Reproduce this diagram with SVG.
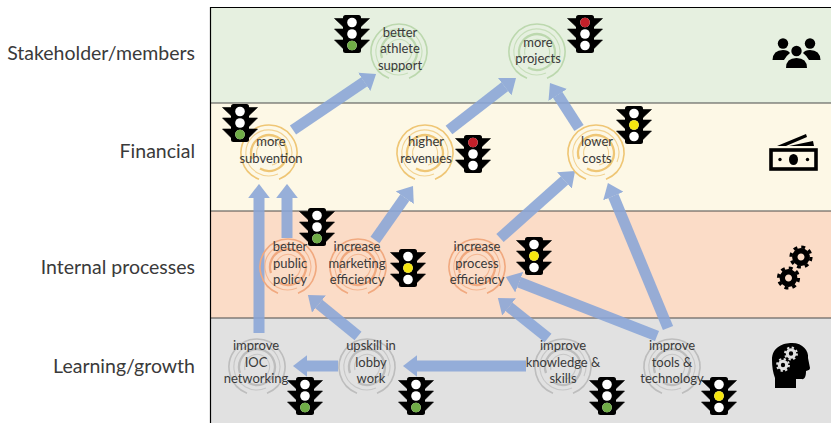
<svg xmlns="http://www.w3.org/2000/svg" width="831" height="423" viewBox="0 0 831 423">
<style>
text{font-family:Lato,"Liberation Sans",sans-serif;fill:#3a3a3a}
.n{font-size:13px;text-anchor:middle}
.band{font-size:19.5px;text-anchor:end}
.sep{stroke:#4a4a4a;stroke-width:1.2}
.a{stroke:#8aa6d8;stroke-width:11;opacity:.88;marker-end:url(#head)}
.ring{fill:none}
.sg{stroke:#bcd8ae}.sy{stroke:#efc675}.so{stroke:#f1a97f}.sa{stroke:#bdbdbd}
.g{fill:#70ad47}.y{fill:#f6e610}.r{fill:#c4202a}
</style>
<defs>
<marker id="head" viewBox="0 -1 1.3 2" markerWidth="1.3" markerHeight="2" refX="0.02" refY="0" orient="auto" markerUnits="strokeWidth"><path d="M0,-1L1.3,0L0,1Z" fill="#8aa6d8"/></marker>
<symbol id="spiral" overflow="visible" viewBox="-30 -30 60 60" width="60" height="60">
<g class="ring">
<path stroke-width="1.6" d="M-10,26.2A28,28 0 1 1 10,26.2"/>
<path stroke-width="1.1" opacity=".75" d="M21,9A23,23 0 1 0 9,21"/>
<path stroke-width="2.3" d="M-17,6A18,18 0 1 1 6,17A18,18 0 0 1 -9,15.6"/>
<path stroke-width="1.1" opacity=".75" d="M-12,3A12.5,12.5 0 1 1 3,12"/>
</g>
</symbol>
<g id="tl">
<rect x="-9" y="-19" width="18" height="38" rx="2.5" fill="#000"/>
<path d="M-9,-15.5L-17.5,-15.5L-9,-7.5ZM9,-15.5L17.5,-15.5L9,-7.5ZM-9,-5L-17.5,-5L-9,3.5ZM9,-5L17.5,-5L9,3.500ZM-9,6L-17.5,6L-9,14.5ZM9,6L17.5,6L9,14.5Z" fill="#000" stroke="#000" stroke-width=".6"/>
<circle cy="-11.5" r="4.8" fill="#fff"/><circle r="4.8" fill="#fff"/><circle cy="11.5" r="4.8" fill="#fff"/>
</g>
<g id="gear"><circle r="6.2" fill="none" stroke="#000" stroke-width="5.4"/><circle r="10" fill="none" stroke="#000" stroke-width="3.2" stroke-dasharray="3.9 3.95"/></g>
</defs>

<g id="bands">
<rect x="210" y="8" width="621" height="95" fill="#e6f0e0"/>
<rect x="210" y="103" width="621" height="108" fill="#fdf8e6"/>
<rect x="210" y="211" width="621" height="107" fill="#fbdcc7"/>
<rect x="210" y="318" width="621" height="105" fill="#e1e1e1"/>
<path class="sep" d="M210,103H831M210,211H831M210,318H831"/>
<path d="M210,7.5H831M210.5,7V423" fill="none" stroke="#000" stroke-width="1.2"/>
<text class="band" x="195" y="60">Stakeholder/members</text>
<text class="band" x="195" y="158">Financial</text>
<text class="band" x="195" y="274">Internal processes</text>
<text class="band" x="195" y="373">Learning/growth</text>
</g>

<g id="connectors">
<line class="a" x1="293" y1="130" x2="364.4" y2="81.8"/>
<line class="a" x1="449" y1="130" x2="504.9" y2="86.6"/>
<line class="a" x1="579" y1="128" x2="557.6" y2="94.8"/>
<line class="a" x1="259" y1="333" x2="259" y2="198"/>
<line class="a" x1="287" y1="238" x2="287" y2="198"/>
<line class="a" x1="375" y1="240" x2="404.9" y2="197.5"/>
<line class="a" x1="500" y1="238" x2="564.6" y2="180.3"/>
<line class="a" x1="668" y1="328" x2="613.3" y2="195.9"/>
<line class="a" x1="657" y1="336" x2="519" y2="282.1"/>
<line class="a" x1="548" y1="338" x2="508.9" y2="306.8"/>
<line class="a" x1="358" y1="336" x2="318.8" y2="303.9"/>
<line class="a" x1="338" y1="366" x2="307" y2="366"/>
<line class="a" x1="526" y1="366" x2="417" y2="366"/>
</g>

<g id="better-athlete"><use href="#spiral" class="sg" x="369" y="22"/><text class="n"><tspan x="400" y="37">better</tspan><tspan x="400" y="53">athlete</tspan><tspan x="400" y="70">support</tspan></text><use href="#tl" x="352" y="34"/><circle class="g" cx="352" cy="45.5" r="4.8"/></g>
<g id="more-projects"><use href="#spiral" class="sg" x="507" y="22"/><text class="n"><tspan x="538" y="47">more</tspan><tspan x="538" y="63">projects</tspan></text><use href="#tl" x="585" y="34"/><circle class="r" cx="585" cy="22.5" r="4.8"/></g>
<g id="more-subvention"><use href="#spiral" class="sy" x="239" y="123"/><text class="n"><tspan x="271" y="146">more</tspan><tspan x="271" y="163">subvention</tspan></text><use href="#tl" x="240" y="123"/><circle class="g" cx="240" cy="134.5" r="4.8"/></g>
<g id="higher-revenues"><use href="#spiral" class="sy" x="395" y="123"/><text class="n"><tspan x="426" y="146">higher</tspan><tspan x="426" y="163">revenues</tspan></text><use href="#tl" x="473" y="154"/><circle class="r" cx="473" cy="142.5" r="4.8"/></g>
<g id="lower-costs"><use href="#spiral" class="sy" x="566" y="123"/><text class="n"><tspan x="597" y="146">lower</tspan><tspan x="597" y="163">costs</tspan></text><use href="#tl" x="634" y="125"/><circle class="y" cx="634" cy="125" r="4.8"/></g>
<g id="better-public-policy"><use href="#spiral" class="so" x="258" y="237"/><text class="n"><tspan x="290" y="251">better</tspan><tspan x="290" y="268">public</tspan><tspan x="290" y="284">policy</tspan></text><use href="#tl" x="317" y="227"/><circle class="g" cx="317" cy="238.5" r="4.8"/></g>
<g id="increase-marketing"><use href="#spiral" class="so" x="328" y="237"/><text class="n"><tspan x="357" y="251">increase</tspan><tspan x="357" y="268">marketing</tspan><tspan x="357" y="284">efficiency</tspan></text><use href="#tl" x="408" y="268"/><circle class="y" cx="408" cy="268" r="4.8"/></g>
<g id="increase-process"><use href="#spiral" class="so" x="447" y="237"/><text class="n"><tspan x="477" y="251">increase</tspan><tspan x="477" y="268">process</tspan><tspan x="477" y="284">efficiency</tspan></text><use href="#tl" x="534" y="256"/><circle class="y" cx="534" cy="256" r="4.8"/></g>
<g id="improve-ioc"><use href="#spiral" class="sa" x="227" y="337"/><text class="n"><tspan x="256" y="350">improve</tspan><tspan x="256" y="367">IOC</tspan><tspan x="256" y="383">networking</tspan></text><use href="#tl" x="305" y="396"/><circle class="g" cx="305" cy="407.5" r="4.8"/></g>
<g id="upskill-lobby"><use href="#spiral" class="sa" x="337" y="337"/><text class="n"><tspan x="371" y="350">upskill in</tspan><tspan x="371" y="367">lobby</tspan><tspan x="371" y="383">work</tspan></text><use href="#tl" x="416" y="396"/><circle class="g" cx="416" cy="407.5" r="4.8"/></g>
<g id="improve-knowledge"><use href="#spiral" class="sa" x="533" y="337"/><text class="n"><tspan x="563" y="350">improve</tspan><tspan x="563" y="367">knowledge &amp;</tspan><tspan x="563" y="383">skills</tspan></text><use href="#tl" x="607" y="396"/><circle class="g" cx="607" cy="407.5" r="4.8"/></g>
<g id="improve-tools"><use href="#spiral" class="sa" x="642" y="337"/><text class="n"><tspan x="672" y="350">improve</tspan><tspan x="672" y="367">tools &amp;</tspan><tspan x="672" y="383">technology</tspan></text><use href="#tl" x="719" y="396"/><circle class="y" cx="719" cy="396" r="4.8"/></g>

<g id="icon-people" fill="#000">
<circle cx="783" cy="43.5" r="5.2"/><circle cx="810" cy="43.5" r="5.2"/><circle cx="796.5" cy="51" r="5.2"/>
<path d="M772.5,60Q773,50 783,50Q788,50 790,53Q786,56 784,60Z"/>
<path d="M820.5,60Q820,50 810,50Q805,50 803,53Q807,56 809,60Z"/>
<path d="M786,68Q786,58 796.5,58Q807,58 807,68Z"/>
</g>
<g id="icon-money">
<rect x="771" y="150" width="45" height="19" fill="none" stroke="#000" stroke-width="3.6"/>
<ellipse cx="793.5" cy="159.5" rx="4.5" ry="5.5"/><circle cx="780" cy="159.5" r="1.7"/><circle cx="807.500" cy="159.500" r="1.700"/>
<path d="M777,146L806,134L807,137L786,146ZM789,146L813,141L814,146Z"/>
</g>
<g id="icon-gears"><use href="#gear" x="801" y="257"/><use href="#gear" x="788.500" y="278"/></g>
<g id="icon-head">
<path d="M772,360C772,347 783,343 792,343C803,343 809,351 808,358L810,368C810,370 808,370 806,371C806,376 805,380 801,379L796,379V388H775V378C773,373 772,367 772,360Z"/>
<g transform="translate(791,353.500) scale(.62)"><circle r="6" fill="none" stroke="#e1e1e1" stroke-width="5"/><circle r="9.600" fill="none" stroke="#e1e1e1" stroke-width="3.200" stroke-dasharray="3.600 3.940"/></g>
<g transform="translate(783,365) scale(.62)"><circle r="6" fill="none" stroke="#e1e1e1" stroke-width="5"/><circle r="9.600" fill="none" stroke="#e1e1e1" stroke-width="3.200" stroke-dasharray="3.600 3.940"/></g>
</g>
</svg>
